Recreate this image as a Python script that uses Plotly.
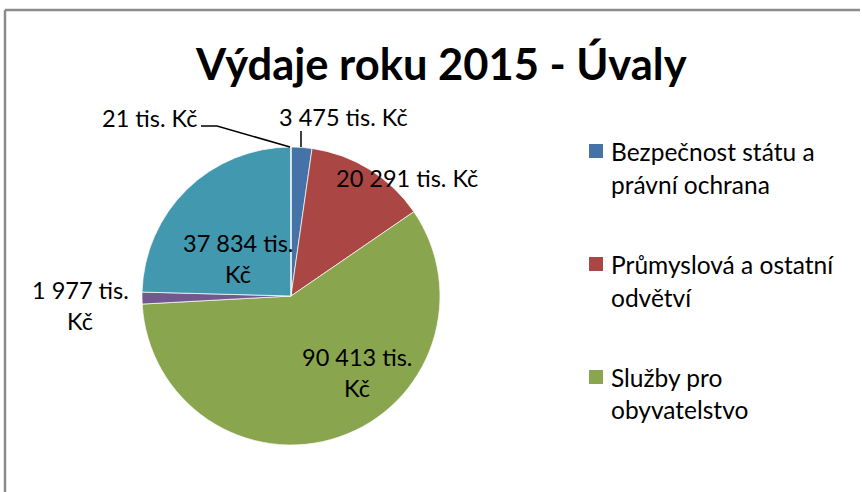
import plotly.graph_objects as go

W, H = 862, 492

categories = [
    "Bezpečnost státu a právní ochrana",
    "Průmyslová a ostatní odvětví",
    "Služby pro obyvatelstvo",
    "Sociální věci a politika zaměstnanosti",
    "Všeobecná veřejná správa a služby",
    "Zemědělství, lesní hospodářství a rybářství",
]
values = [3475, 20291, 90413, 1977, 37834, 21]
colors = ["#4572A7", "#AA4643", "#89A54E", "#71588F", "#4198AF", "#DB843D"]
legend_lines = [
    ["Bezpečnost státu a", "právní ochrana"],
    ["Průmyslová a ostatní", "odvětví"],
    ["Služby pro", "obyvatelstvo"],
]
title_text = "Výdaje roku 2015 - Úvaly"
unit = "tis. Kč"


def fmt(v):
    return f"{v:,}".replace(",", " ")


def px(x):
    return x / W


def py(y):
    return 1 - y / H


FONT = "Lato, Calibri, Carlito, sans-serif"

# pie geometry (pixels)
cx, cy, r = 291, 296, 149

fig = go.Figure(go.Pie(
    labels=categories,
    values=values,
    sort=False,
    direction="clockwise",
    rotation=0,
    marker=dict(colors=colors, line=dict(color="rgba(255,255,255,0.7)", width=1)),
    textinfo="none",
    hoverinfo="label+value+percent",
    showlegend=False,
    domain=dict(x=[px(cx - r), px(cx + r)], y=[py(cy + r), py(cy - r)]),
))

annotations = []
shapes = []

annotations.append(dict(text=f"<b>{title_text}</b>", x=px(441), y=py(63),
                        xref="paper", yref="paper", showarrow=False,
                        xanchor="center", yanchor="middle",
                        font=dict(family=FONT, size=43.5, color="#000000")))

# data labels: (value index, lines, pixel centre x, pixel centre y of first line)
label_specs = [
    (0, 1, 343, 117),
    (1, 1, 407, 178),
    (2, 2, 357, 357),
    (3, 2, 80, 290),
    (4, 2, 238, 243),
    (5, 1, 149, 118),
]
line_gap = 31
for idx, nlines, lx, ly in label_specs:
    if nlines == 1:
        texts = [f"{fmt(values[idx])} {unit}"]
    else:
        parts = unit.split(" ")
        texts = [f"{fmt(values[idx])} {parts[0]}", parts[1]]
    for k, t in enumerate(texts):
        annotations.append(dict(text=t, x=px(lx), y=py(ly + k * line_gap),
                                xref="paper", yref="paper", showarrow=False,
                                xanchor="center", yanchor="middle",
                                font=dict(family=FONT, size=23.5, color="#000000")))

# leader lines
line_style = dict(color="#000000", width=1.5)
shapes.append(dict(type="line", xref="paper", yref="paper",
                   x0=px(301), y0=py(147), x1=px(301), y1=py(131), line=line_style))
shapes.append(dict(type="path", xref="paper", yref="paper",
                   path=f"M {px(290)} {py(147)} L {px(217)} {py(126)} L {px(201)} {py(126)}",
                   line=line_style))

# custom legend (only first three entries are visible in the reference)
legend_y = [(151, 185), (264, 297), (377, 409)]
for i, lines in enumerate(legend_lines):
    y1, y2 = legend_y[i]
    shapes.append(dict(type="rect", xref="paper", yref="paper",
                       x0=px(589), x1=px(603), y0=py(y1 - 7), y1=py(y1 + 7),
                       fillcolor=colors[i], line=dict(width=0)))
    for t, yy in zip(lines, (y1, y2)):
        annotations.append(dict(text=t, x=px(609), y=py(yy),
                                xref="paper", yref="paper", showarrow=False,
                                xanchor="left", yanchor="middle",
                                font=dict(family=FONT, size=24.5, color="#000000")))

# chart frame (top and left borders visible)
frame = dict(color="#8C8C8C", width=2.5)
shapes.append(dict(type="line", xref="paper", yref="paper",
                   x0=px(5), x1=px(860), y0=py(10), y1=py(10), line=frame))
shapes.append(dict(type="line", xref="paper", yref="paper",
                   x0=px(5), x1=px(5), y0=py(10), y1=py(492), line=frame))

fig.update_layout(
    width=W, height=H,
    margin=dict(l=0, r=0, t=0, b=0),
    paper_bgcolor="#FFFFFF",
    plot_bgcolor="#FFFFFF",
    annotations=annotations,
    shapes=shapes,
    showlegend=False,
)

fig.write_html("out.html",
               config={"displayModeBar": False},
               post_script="document.body.style.margin='0';document.body.style.overflow='hidden';")
